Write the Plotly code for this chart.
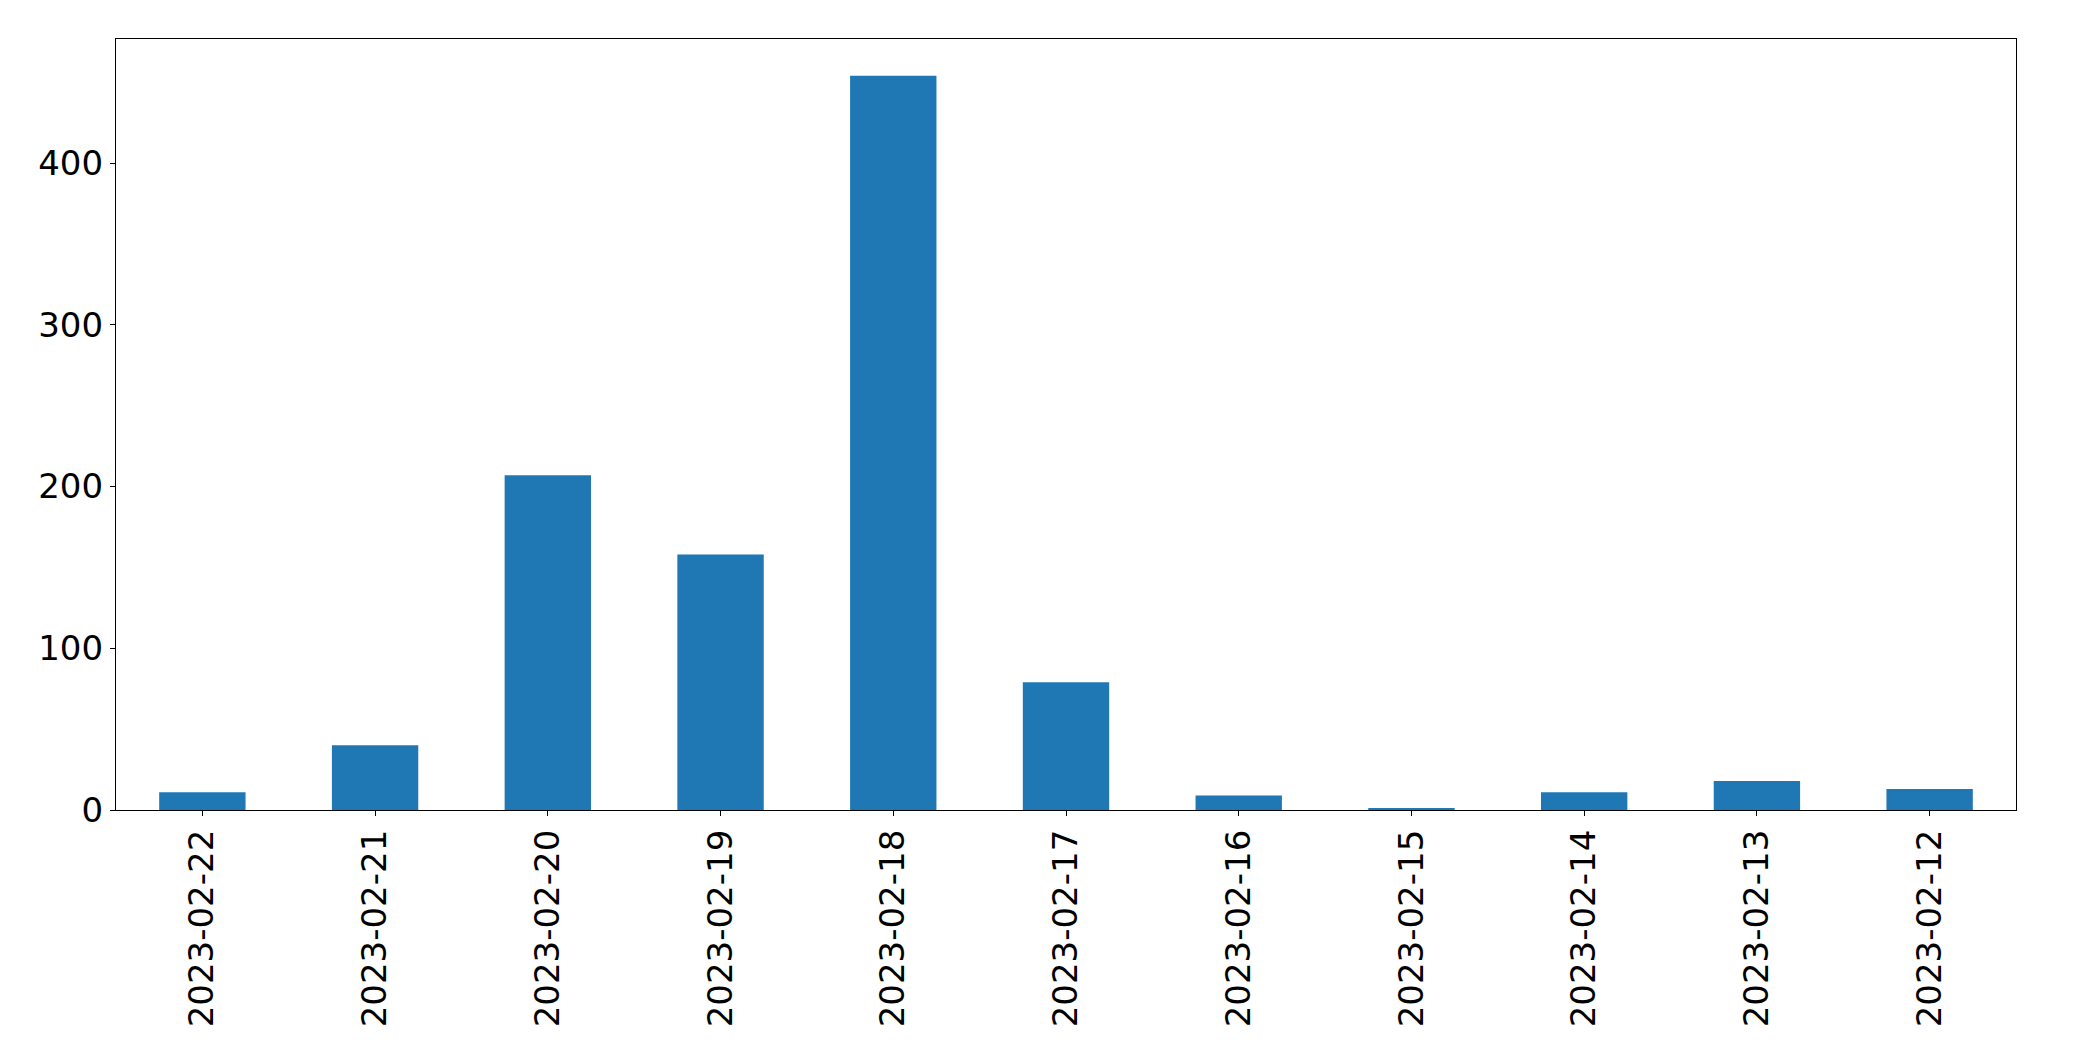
import plotly.graph_objects as go

dates = ["2023-02-22", "2023-02-21", "2023-02-20", "2023-02-19", "2023-02-18",
         "2023-02-17", "2023-02-16", "2023-02-15", "2023-02-14", "2023-02-13", "2023-02-12"]
counts = [11, 40, 207, 158, 454, 79, 9, 1, 11, 18, 13]
y_ticks = [0, 100, 200, 300, 400]

fig = go.Figure(go.Bar(x=dates, y=counts, marker=dict(color="#1f77b4", line=dict(width=0))))

font = dict(family="DejaVu Sans", size=34, color="black")
fig.update_layout(
    width=2093, height=1061,
    margin=dict(l=108, r=85, t=31, b=259),
    paper_bgcolor="white", plot_bgcolor="white",
    bargap=0.5, showlegend=False, font=font,
)
fig.update_xaxes(
    type="category", range=[-0.5, len(dates) - 0.5],
    showline=True, mirror=True, linecolor="black", linewidth=1.3,
    ticks="outside", ticklen=5, tickcolor="black", tickwidth=1.3,
    tickangle=-90, showgrid=False, tickfont=font,
)
fig.update_yaxes(
    range=[0, max(counts) * 1.05],
    tickvals=y_ticks,
    showline=True, mirror=True, linecolor="black", linewidth=1.3,
    ticks="outside", ticklen=5, tickcolor="black", tickwidth=1.3,
    showgrid=False, zeroline=False, tickfont=font,
)
fig.write_html("out.html")
